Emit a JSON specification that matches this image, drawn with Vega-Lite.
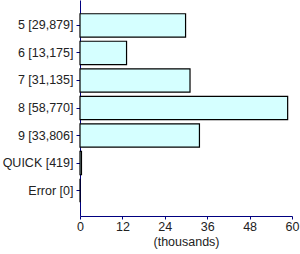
{
  "$schema": "https://vega.github.io/schema/vega-lite/v6.json",
  "width": 212,
  "height": 216,
  "autosize": {"type": "none"},
  "padding": {"left": 80, "top": 0, "right": 8, "bottom": 38},
  "config": {"view": {"stroke": null}, "font": "Liberation Sans"},
  "data": {
    "values": [
      {"label": "5 [29,879]", "value": 29.879},
      {"label": "6 [13,175]", "value": 13.175},
      {"label": "7 [31,135]", "value": 31.135},
      {"label": "8 [58,770]", "value": 58.770},
      {"label": "9 [33,806]", "value": 33.806},
      {"label": "QUICK [419]", "value": 0.419},
      {"label": "Error [0]", "value": 0}
    ]
  },
  "mark": {"type": "bar", "fill": "#d5ffff", "stroke": "#000000", "strokeWidth": 1.2},
  "encoding": {
    "y": {
      "field": "label", "type": "nominal", "sort": null,
      "scale": {"paddingInner": 0.15, "paddingOuter": 0.5},
      "axis": {"title": null, "domainColor": "#000080", "tickColor": "#000080", "tickSize": 4, "labelPadding": 3, "labelFontSize": 12.5, "labelColor": "#222222", "labelFont": "Liberation Sans"}
    },
    "x": {
      "field": "value", "type": "quantitative",
      "scale": {"domain": [0, 60], "nice": false},
      "axis": {"values": [0, 12, 24, 36, 48, 60], "title": "(thousands)", "titleFontWeight": "normal", "titleFontSize": 12.5, "titleColor": "#222222", "titlePadding": 3, "titleFont": "Liberation Sans", "domainColor": "#000080", "tickColor": "#000080", "tickSize": 3, "labelPadding": 1, "labelFontSize": 12.5, "labelColor": "#222222", "labelFont": "Liberation Sans", "grid": false, "labelFlush": false}
    }
  }
}
